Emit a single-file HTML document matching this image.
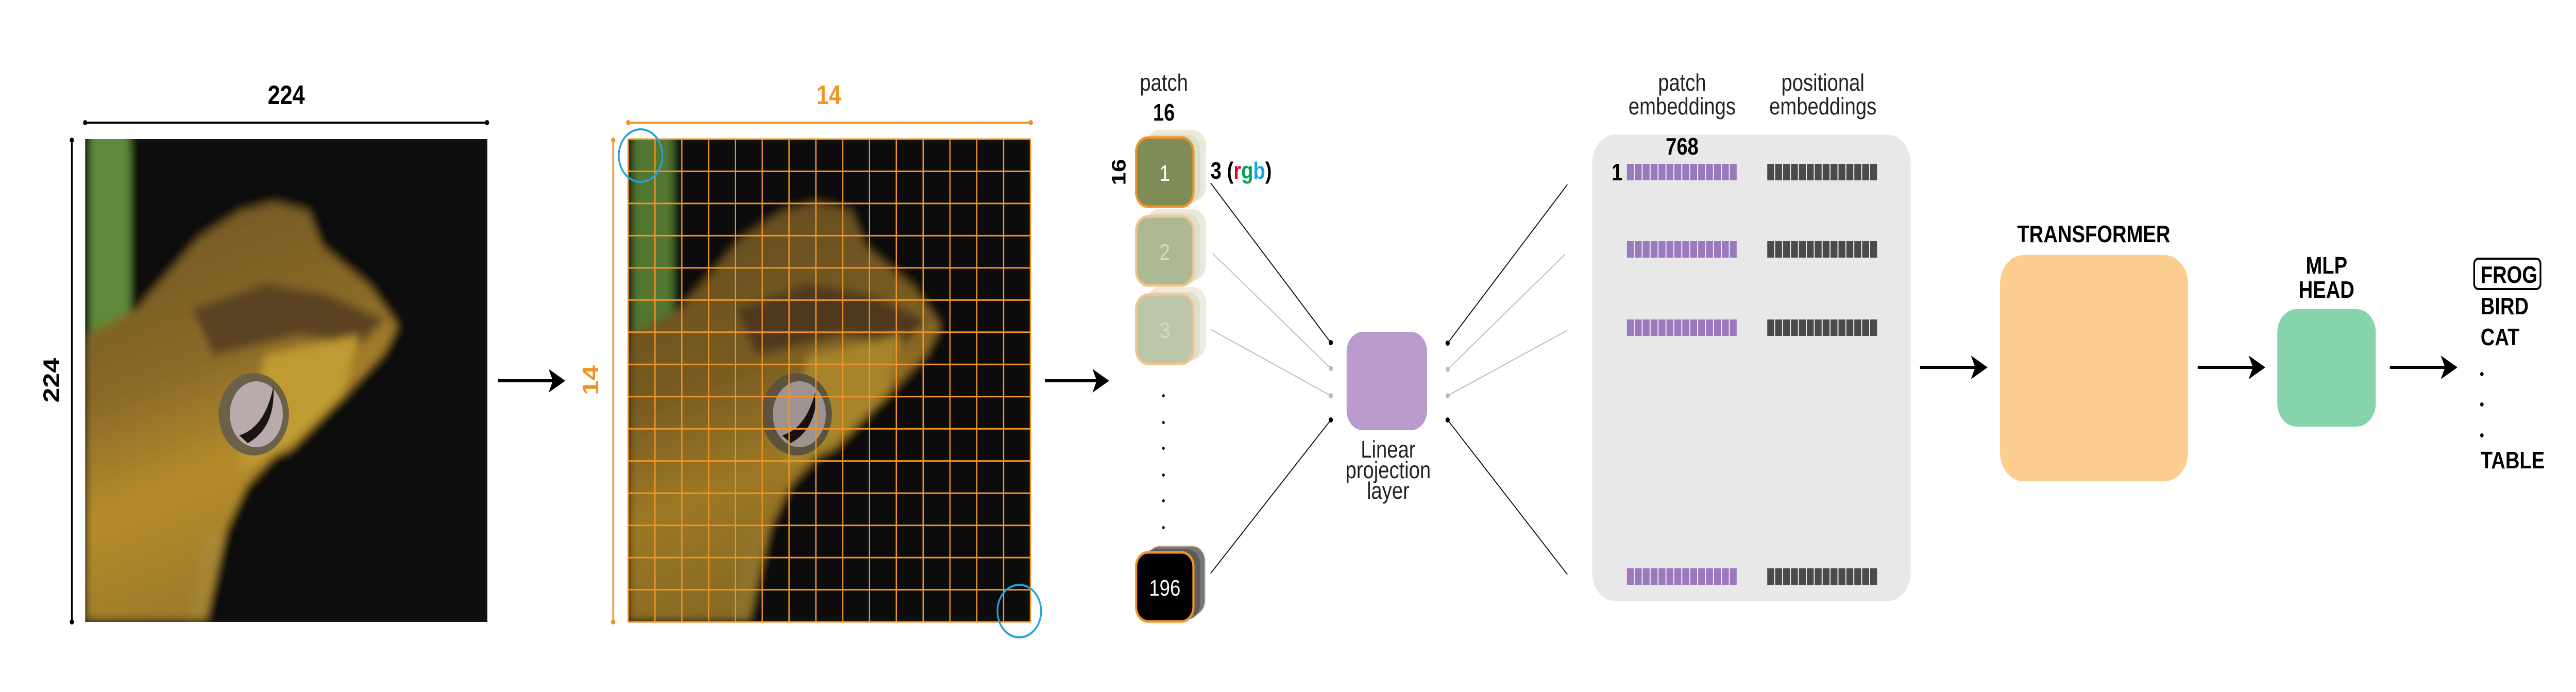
<!DOCTYPE html>
<html><head><meta charset="utf-8"><style>
html,body{margin:0;padding:0;background:#fff;width:100%;height:100%;overflow:hidden;}
svg{display:block;font-family:"Liberation Sans",sans-serif;width:100vw;height:100vh;}
</style></head><body>
<svg viewBox="0 0 6020 1343" preserveAspectRatio="none" xmlns="http://www.w3.org/2000/svg">
<defs>
  <filter id="blur" x="0" y="0" width="1" height="1"><feGaussianBlur stdDeviation="9"/></filter>
  <linearGradient id="frogfill" x1="0" y1="0" x2="0.3" y2="1">
    <stop offset="0" stop-color="#6e5424"/><stop offset="0.45" stop-color="#8a6a28"/><stop offset="0.7" stop-color="#b58c2c"/><stop offset="1" stop-color="#9b7a2a"/>
  </linearGradient>
  <clipPath id="clipimg"><rect x="0" y="0" width="940" height="937"/></clipPath>
  <g id="frog">
    <g clip-path="url(#clipimg)">
      <rect x="0" y="0" width="940" height="937" fill="#0f100b"/>
      <g filter="url(#blur)">
        <rect x="0" y="0" width="940" height="937" fill="#0f100b"/>
        <rect x="10" y="-40" width="95" height="470" fill="#5f8a3a"/>
        <polygon fill="url(#frogfill)" points="0,380 122,329 266,192 362,140 442,123 522,140 554,209 666,286 730,363 698,415 602,500 474,586 378,671 330,757 282,937 0,937"/>
        <polygon fill="#5a4320" points="250,330 420,280 560,300 700,350 640,400 500,380 300,420"/>
        <polygon fill="#c09a30" points="420,420 640,380 600,500 480,600 360,640"/>
        <polygon fill="#a88a3a" opacity="0.6" points="280,760 330,757 282,937 240,937"/>
      </g>
      <ellipse cx="394" cy="534" rx="82" ry="80" fill="#6b6048"/>
      <ellipse cx="400" cy="534" rx="62" ry="64" fill="#b9abab"/>
      <path d="M360,575 Q420,560 440,480 Q445,560 380,590 Z" fill="#1a1412"/>
    </g>
  </g>
</defs>

<text x="669" y="202" text-anchor="middle" font-size="52" font-weight="bold">224</text>
<line x1="199" y1="238" x2="1138" y2="238" stroke="#000" stroke-width="4"/>
<circle cx="199" cy="238" r="5"/><circle cx="1138" cy="238" r="5"/>
<line x1="168" y1="272" x2="168" y2="1207" stroke="#000" stroke-width="4"/>
<circle cx="168" cy="272" r="5"/><circle cx="168" cy="1207" r="5"/>
<text x="0" y="0" transform="translate(138,738) rotate(-90)" text-anchor="middle" font-size="52" font-weight="bold">224</text>
<use href="#frog" x="199" y="270"/>

<g><line x1="1164" y1="739" x2="1300" y2="739" stroke="#000" stroke-width="6"/><polygon points="1321,739 1282,716 1292,739 1282,762" fill="#000"/></g>

<text x="1937" y="202" text-anchor="middle" font-size="52" font-weight="bold" fill="#f39325">14</text>
<line x1="1468" y1="238" x2="2409" y2="238" stroke="#f39325" stroke-width="4"/>
<circle cx="1468" cy="238" r="5" fill="#f39325"/><circle cx="2409" cy="238" r="5" fill="#f39325"/>
<line x1="1433" y1="272" x2="1433" y2="1207" stroke="#f39325" stroke-width="4"/>
<circle cx="1433" cy="272" r="5" fill="#f39325"/><circle cx="1433" cy="1207" r="5" fill="#f39325"/>
<text x="0" y="0" transform="translate(1398,738) rotate(-90)" text-anchor="middle" font-size="52" font-weight="bold" fill="#f39325">14</text>
<g transform="translate(1468,270)">
  <rect x="0" y="0" width="940" height="937" fill="#0c0c08"/>
  <use href="#frog" opacity="0.85"/>
  <g id="gridlines" stroke="#f39325" stroke-width="3"></g>
</g>
<ellipse cx="1497" cy="302" rx="51" ry="51" fill="none" stroke="#1fa3d8" stroke-width="4"/>
<ellipse cx="2382" cy="1186" rx="51" ry="51" fill="none" stroke="#1fa3d8" stroke-width="4"/>

<g><line x1="2442" y1="739" x2="2572" y2="739" stroke="#000" stroke-width="6"/><polygon points="2592,739 2553,716 2563,739 2553,762" fill="#000"/></g>

<text x="2720" y="176" text-anchor="middle" font-size="46" fill="#222">patch</text>
<text x="2720" y="234" text-anchor="middle" font-size="46" font-weight="bold">16</text>
<text x="0" y="0" transform="translate(2630,334) rotate(-90)" text-anchor="middle" font-size="46" font-weight="bold">16</text>
<text x="2829" y="347" font-size="46" font-weight="bold">3 (<tspan fill="#e4032e">r</tspan><tspan fill="#00a651">g</tspan><tspan fill="#12a7e8">b</tspan>)</text>
<g id="patches"></g>

<g>
<line x1="2829" y1="355" x2="3110" y2="665" stroke="#000" stroke-width="2"/>
<line x1="2834" y1="492" x2="3110" y2="715" stroke="#bbb" stroke-width="2"/>
<line x1="2829" y1="639" x2="3110" y2="768" stroke="#bbb" stroke-width="2"/>
<line x1="2829" y1="1113" x2="3110" y2="815" stroke="#000" stroke-width="2"/>
<circle cx="3110" cy="665" r="5"/><circle cx="3110" cy="715" r="5" fill="#bbb"/><circle cx="3110" cy="768" r="5" fill="#bbb"/><circle cx="3110" cy="815" r="5"/>
<line x1="3383" y1="666" x2="3663" y2="358" stroke="#000" stroke-width="2"/>
<line x1="3383" y1="717" x2="3657" y2="494" stroke="#bbb" stroke-width="2"/>
<line x1="3383" y1="768" x2="3663" y2="641" stroke="#bbb" stroke-width="2"/>
<line x1="3383" y1="815" x2="3663" y2="1115" stroke="#000" stroke-width="2"/>
<circle cx="3383" cy="666" r="5"/><circle cx="3383" cy="717" r="5" fill="#bbb"/><circle cx="3383" cy="768" r="5" fill="#bbb"/><circle cx="3383" cy="815" r="5"/>
</g>

<rect x="3147" y="644" width="188" height="191" rx="38" fill="#b99ccd"/>
<g font-size="46" text-anchor="middle" fill="#222">
<text x="3244" y="888">Linear</text><text x="3244" y="928">projection</text><text x="3244" y="968">layer</text>
</g>

<text x="3931" y="176" text-anchor="middle" font-size="46" fill="#222">patch</text>
<text x="3931" y="222" text-anchor="middle" font-size="46" fill="#222">embeddings</text>
<text x="4260" y="176" text-anchor="middle" font-size="46" fill="#222">positional</text>
<text x="4260" y="222" text-anchor="middle" font-size="46" fill="#222">embeddings</text>
<rect x="3721" y="261" width="744" height="906" rx="55" fill="#e8e8e8"/>
<text x="3931" y="300" text-anchor="middle" font-size="46" font-weight="bold">768</text>
<text x="3779" y="350" text-anchor="middle" font-size="46" font-weight="bold">1</text>
<g id="bars"></g>

<g><line x1="4487" y1="713" x2="4625" y2="713" stroke="#000" stroke-width="6"/><polygon points="4645,713 4606,690 4616,713 4606,736" fill="#000"/></g>
<text x="4893" y="470" text-anchor="middle" font-size="46" font-weight="bold">TRANSFORMER</text>
<rect x="4674" y="495" width="439" height="439" rx="55" fill="#fbcd8f"/>
<g><line x1="5136" y1="713" x2="5274" y2="713" stroke="#000" stroke-width="6"/><polygon points="5294,713 5255,690 5265,713 5255,736" fill="#000"/></g>
<text x="5437" y="531" text-anchor="middle" font-size="46" font-weight="bold">MLP</text>
<text x="5437" y="578" text-anchor="middle" font-size="46" font-weight="bold">HEAD</text>
<rect x="5322" y="600" width="230" height="228" rx="45" fill="#88d4aa"/>
<g><line x1="5585" y1="713" x2="5723" y2="713" stroke="#000" stroke-width="6"/><polygon points="5743,713 5704,690 5714,713 5704,736" fill="#000"/></g>

<rect x="5782" y="502" width="155" height="59" rx="10" fill="none" stroke="#000" stroke-width="4"/>
<g font-size="46" font-weight="bold">
<text x="5797" y="549">FROG</text>
<text x="5797" y="610">BIRD</text>
<text x="5797" y="670">CAT</text>
<circle cx="5800" cy="726" r="4"/><circle cx="5800" cy="785" r="4"/><circle cx="5800" cy="845" r="4"/>
<text x="5797" y="909">TABLE</text>
</g>
</svg>
<script>
const NS='http://www.w3.org/2000/svg';
const gridCount=15;
const g=document.getElementById('gridlines');
for(let i=0;i<=gridCount;i++){
  const x=940*i/gridCount, y=937*i/gridCount;
  const v=document.createElementNS(NS,'line');v.setAttribute('x1',x);v.setAttribute('x2',x);v.setAttribute('y1',0);v.setAttribute('y2',937);
  
  
  g.appendChild(v);
  const h=document.createElementNS(NS,'line');h.setAttribute('y1',y);h.setAttribute('y2',y);h.setAttribute('x1',0);h.setAttribute('x2',940);
  
  
  g.appendChild(h);
}
const patchLabels=['1','2','3','196'];
const patchFills=['#7f8c57','#adb993','#bcc6a8','#000'];
const patchBack=['#e6eadb','#e8ebdc','#eceee2','#777'];
const patchTops=[267,420,572,1072];
const pg=document.getElementById('patches');
patchLabels.forEach((lab,i)=>{
  const y=patchTops[i];
  const grp=document.createElementNS(NS,'g');
  
  
  const b1=document.createElementNS(NS,'rect');b1.setAttribute('x',2680);b1.setAttribute('y',y-13);b1.setAttribute('width',137);b1.setAttribute('height',136);b1.setAttribute('rx',30);b1.setAttribute('fill',patchBack[i]);b1.setAttribute('stroke','#fbe5cc');b1.setAttribute('stroke-width',3);
  grp.appendChild(b1);
  const b2=document.createElementNS(NS,'rect');b2.setAttribute('x',2668);b2.setAttribute('y',y-6);b2.setAttribute('width',137);b2.setAttribute('height',136);b2.setAttribute('rx',30);b2.setAttribute('fill',i==3?'#555':'#d8ddc9');b2.setAttribute('opacity',0.8);
  grp.appendChild(b2);
  const r=document.createElementNS(NS,'rect');r.setAttribute('x',2655);r.setAttribute('y',y);r.setAttribute('width',134);r.setAttribute('height',134);r.setAttribute('rx',28);r.setAttribute('fill',patchFills[i]);r.setAttribute('stroke',i==0||i==3?'#f39325':'#f5c48e');r.setAttribute('stroke-width',5);
  grp.appendChild(r);
  const t=document.createElementNS(NS,'text');t.setAttribute('x',2722);t.setAttribute('y',y+84);t.setAttribute('text-anchor','middle');t.setAttribute('font-size',44);t.setAttribute('fill',i==0||i==3?'#fff':'#d5dbc6');t.textContent=lab;
  grp.appendChild(t);
  pg.appendChild(grp);
});
const dotYs=[768,820,870,922,972,1024];
dotYs.forEach(y=>{const c=document.createElementNS(NS,'circle');c.setAttribute('cx',2719);c.setAttribute('cy',y);c.setAttribute('r',3);
  
  
  pg.appendChild(c);});
const rowCenters=[334,484,636,1119];
const segCount=14;
const bg=document.getElementById('bars');
rowCenters.forEach(cy=>{
  [[3802,'#9b79be','patch-embedding-bar'],[4130,'#4a4a4a','positional-embedding-bar']].forEach(([x0,col,nm])=>{
    const grp=document.createElementNS(NS,'g');
    
    
    const w=259/segCount;
    for(let k=0;k<segCount;k++){
      const r=document.createElementNS(NS,'rect');r.setAttribute('x',x0+k*w);r.setAttribute('y',cy-16);r.setAttribute('width',w-2.5);r.setAttribute('height',32);r.setAttribute('fill',col);
      grp.appendChild(r);
    }
    bg.appendChild(grp);
  });
});
</script>
</body></html>
